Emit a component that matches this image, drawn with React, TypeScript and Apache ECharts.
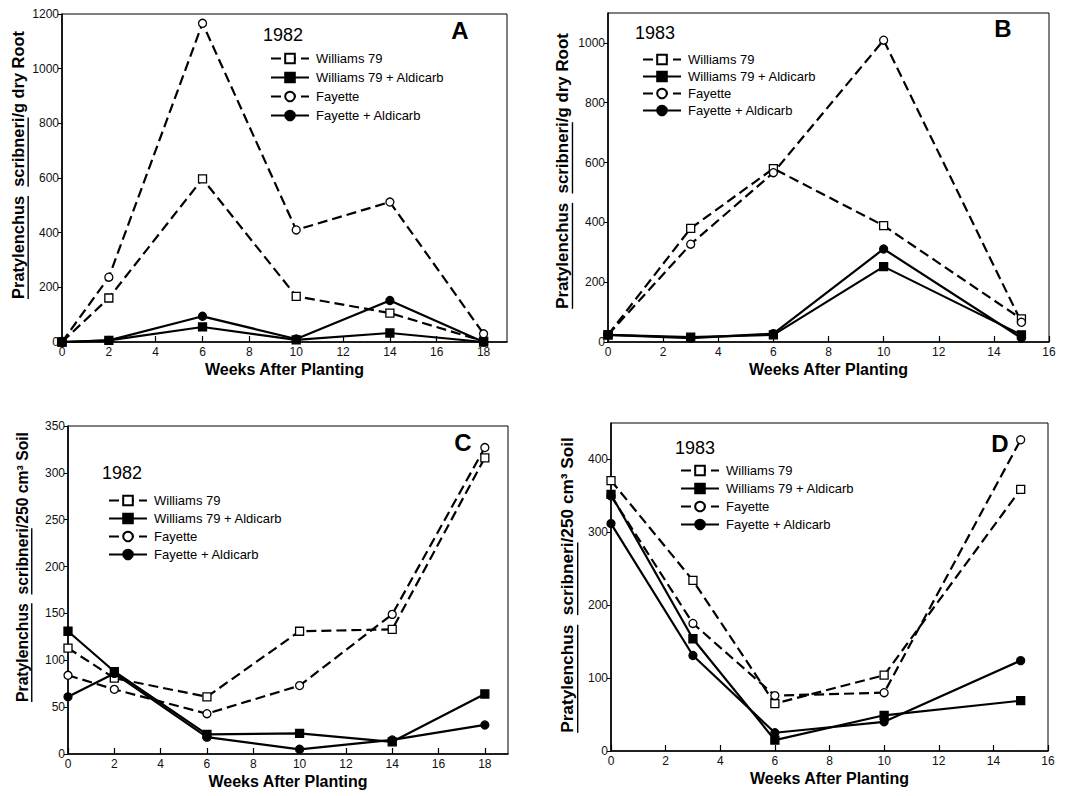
import React, { useEffect, useRef } from "react";
import * as echarts from "echarts";

// ---------- data ----------
const NAMES = ["Williams 79", "Williams 79 + Aldicarb", "Fayette", "Fayette + Aldicarb"];

const weeksA = [0, 2, 6, 10, 14, 18];
const rootA_williams = [0, 161, 597, 167, 106, 3];
const rootA_williamsAld = [0, 6, 55, 8, 33, 0];
const rootA_fayette = [0, 237, 1166, 410, 512, 30];
const rootA_fayetteAld = [0, 6, 94, 11, 152, 0];

const weeksB = [0, 3, 6, 10, 15];
const rootB_williams = [24, 380, 580, 389, 77];
const rootB_williamsAld = [24, 16, 24, 252, 24];
const rootB_fayette = [24, 327, 566, 1009, 66];
const rootB_fayetteAld = [24, 13, 28, 311, 13];

const weeksC = [0, 2, 6, 10, 14, 18];
const soilC_williams = [113, 81, 61, 131, 133, 316];
const soilC_williamsAld = [131, 88, 21, 22, 13, 64];
const soilC_fayette = [84, 69, 43, 73, 149, 327];
const soilC_fayetteAld = [61, 86, 18, 5, 15, 31];

const weeksD = [0, 3, 6, 10, 15];
const soilD_williams = [371, 234, 65, 104, 359];
const soilD_williamsAld = [352, 154, 15, 49, 69];
const soilD_fayette = [350, 175, 76, 80, 427];
const soilD_fayetteAld = [312, 131, 25, 40, 124];

const PANEL_LETTERS = ["A", "B", "C", "D"];
const PANEL_YEARS = ["1982", "1983", "1982", "1983"];
const X_TITLE = "Weeks After Planting";

const FONT = "Liberation Sans";

const panels = [
  { weeks: weeksA, values: [rootA_williams, rootA_williamsAld, rootA_fayette, rootA_fayetteAld], xMax: 19, yMax: 1200, yInt: 200, unit: "/g dry Root" },
  { weeks: weeksB, values: [rootB_williams, rootB_williamsAld, rootB_fayette, rootB_fayetteAld], xMax: 16, yMax: 1100, yInt: 200, unit: "/g dry Root" },
  { weeks: weeksC, values: [soilC_williams, soilC_williamsAld, soilC_fayette, soilC_fayetteAld], xMax: 19, yMax: 350, yInt: 50, unit: "/250 cm³ Soil" },
  { weeks: weeksD, values: [soilD_williams, soilD_williamsAld, soilD_fayette, soilD_fayetteAld], xMax: 16, yMax: 450, yInt: 100, unit: "/250 cm³ Soil" },
];

// ---------- layout ----------
const GRIDS = [
  { left: 62, top: 14, width: 445, height: 328 },
  { left: 608, top: 13, width: 441, height: 329 },
  { left: 68, top: 426, width: 440, height: 328 },
  { left: 611, top: 423, width: 437, height: 328 },
];
const LETTER_POS = [[460, 30], [1003, 28], [463, 442], [1000, 443]];
const YEAR_POS = [[263, 35], [635, 33], [102, 473], [675, 448]];
const LEGEND_POS = [[265, 47], [637, 48], [103, 489], [675, 459]];
const LEGEND_GAP = [6, 4, 5, 5];
const YTITLE = [
  { cx: 18, cy: 165, len: 268 },
  { cx: 562, cy: 171, len: 276 },
  { cx: 22, cy: 567, len: 270 },
  { cx: 567, cy: 585, len: 296 },
];

const SERIES_STYLE = [
  { dashed: true, symbol: "rect", fill: "#fff", size: 8 },
  { dashed: false, symbol: "rect", fill: "#000", size: 8 },
  { dashed: true, symbol: "circle", fill: "#fff", size: 8 },
  { dashed: false, symbol: "circle", fill: "#000", size: 8 },
];

function measure(text: string, size: number): number {
  const c = document.createElement("canvas");
  const ctx = c.getContext("2d")!;
  ctx.font = `bold ${size}px "${FONT}"`;
  return ctx.measureText(text).width;
}

function yTitleGraphic(p: number) {
  const t = YTITLE[p];
  const parts: [string, boolean][] = [
    ["Pratylenchus", true],
    ["  ", false],
    ["scribneri", true],
    [panels[p].unit, false],
  ];
  const full = parts.map((q) => q[0]).join("");
  const base = 16;
  const size = (base * t.len) / measure(full, base);
  const total = measure(full, size);
  let x = -total / 2;
  const children: any[] = [];
  parts.forEach(([txt, ul]) => {
    const w = measure(txt, size);
    children.push({
      type: "text",
      x,
      y: 0,
      style: {
        text: txt,
        fontFamily: FONT,
        fontWeight: "bold",
        fontSize: size,
        fill: "#000",
        textAlign: "left",
        textVerticalAlign: "middle",
      },
    });
    if (ul) {
      children.push({
        type: "line",
        shape: { x1: x, y1: size * 0.62, x2: x + w, y2: size * 0.62 },
        style: { stroke: "#000", lineWidth: 1.4 },
      });
    }
    x += w;
  });
  return { type: "group", x: t.cx, y: t.cy, rotation: Math.PI / 2, children };
}

export default function App() {
  const ref = useRef<HTMLDivElement>(null);
  useEffect(() => {
    if (!ref.current) return;
    const chart = echarts.init(ref.current, undefined, { renderer: "svg" });

    const xAxis = panels.map((pn, p) => ({
      type: "value",
      gridIndex: p,
      min: 0,
      max: pn.xMax,
      interval: 2,
      axisLine: { show: true, lineStyle: { color: "#000", width: 1.6 } },
      axisTick: { show: true, inside: true, length: 6, lineStyle: { color: "#000", width: 1.2 } },
      axisLabel: {
        color: "#111",
        fontFamily: FONT,
        fontSize: 12,
        margin: 4,
        showMaxLabel: pn.xMax % 2 === 0,
        formatter: (v: number) => (v % 2 === 0 ? String(v) : ""),
      },
      splitLine: { show: false },
      name: X_TITLE,
      nameLocation: "middle",
      nameGap: 19,
      nameTextStyle: { fontFamily: FONT, fontWeight: "bold", fontSize: 16, color: "#000" },
    }));

    const yAxis = panels.map((pn, p) => ({
      type: "value",
      gridIndex: p,
      min: 0,
      max: pn.yMax,
      interval: pn.yInt,
      axisLine: { show: true, lineStyle: { color: "#000", width: 1.6 } },
      axisTick: { show: true, inside: false, length: 4, lineStyle: { color: "#000", width: 1 } },
      axisLabel: {
        color: "#111",
        fontFamily: FONT,
        fontSize: 12,
        margin: 3,
        showMaxLabel: pn.yMax % pn.yInt === 0,
        formatter: (v: number) => (v % pn.yInt === 0 ? String(v) : ""),
      },
      splitLine: { show: false },
    }));

    const series: any[] = [];
    panels.forEach((pn, p) => {
      pn.values.forEach((vals, k) => {
        const st = SERIES_STYLE[k];
        series.push({
          type: "line",
          name: NAMES[k],
          xAxisIndex: p,
          yAxisIndex: p,
          data: pn.weeks.map((w, j) => [w, vals[j]]),
          symbol: st.symbol,
          symbolSize: st.size,
          showAllSymbol: true,
          clip: false,
          lineStyle: { color: "#000", width: 2.2, type: st.dashed ? [10, 5] : "solid" },
          itemStyle: { color: st.fill, borderColor: "#000", borderWidth: 1.3 },
          emphasis: { disabled: true },
          z: st.dashed ? 2 : 3,
        });
      });
    });

    const legend = panels.map((_, p) => ({
      orient: "vertical",
      left: LEGEND_POS[p][0],
      top: LEGEND_POS[p][1],
      itemWidth: 38,
      itemHeight: 12,
      itemGap: LEGEND_GAP[p],
      selectedMode: false,
      data: NAMES,
      textStyle: { fontFamily: FONT, fontSize: 13, color: "#000", padding: [0, 0, 0, 2] },
    }));

    const graphic: any[] = [];
    panels.forEach((_, p) => {
      graphic.push({
        type: "text",
        x: LETTER_POS[p][0],
        y: LETTER_POS[p][1],
        style: {
          text: PANEL_LETTERS[p],
          fontFamily: FONT,
          fontWeight: "bold",
          fontSize: 24,
          fill: "#000",
          textAlign: "center",
          textVerticalAlign: "middle",
        },
      });
      graphic.push({
        type: "text",
        x: YEAR_POS[p][0],
        y: YEAR_POS[p][1],
        style: {
          text: PANEL_YEARS[p],
          fontFamily: FONT,
          fontSize: 18,
          fill: "#000",
          textAlign: "left",
          textVerticalAlign: "middle",
        },
      });
      graphic.push(yTitleGraphic(p));
    });

    chart.setOption({
      animation: false,
      backgroundColor: "#fff",
      grid: GRIDS.map((g) => ({ ...g, show: true, borderColor: "#000", borderWidth: 1, backgroundColor: "transparent" })),
      xAxis,
      yAxis,
      legend,
      series,
      graphic,
    });
    return () => chart.dispose();
  }, []);
  return (
    <div
      ref={ref}
      style={{ position: "absolute", left: 0, top: 0, width: 1083, height: 796, background: "#fff" }}
    />
  );
}
